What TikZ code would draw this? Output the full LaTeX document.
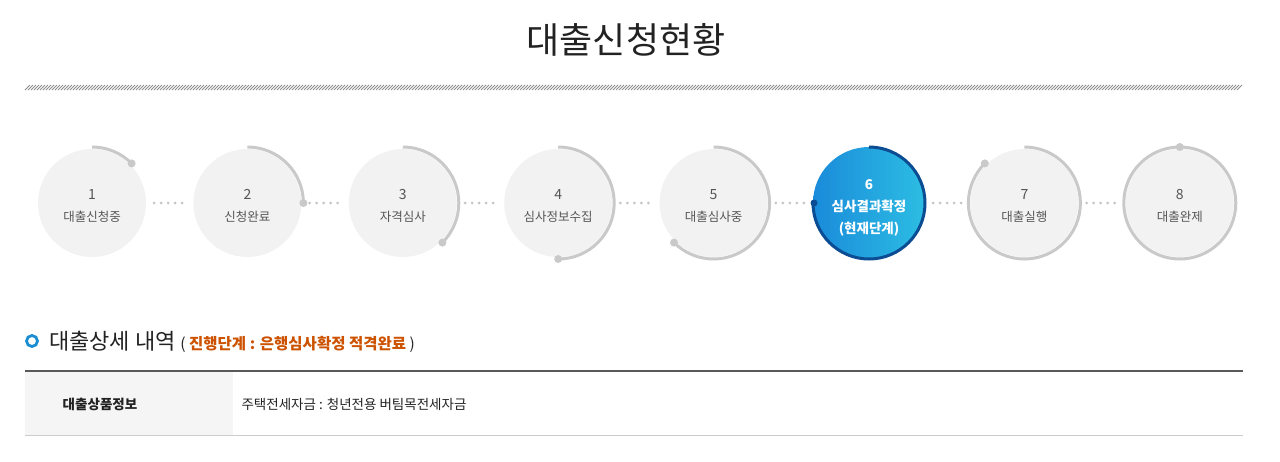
\documentclass[tikz,border=0pt]{standalone}
\usepackage{fontspec}
\setmainfont{Noto Sans CJK KR}
\usepackage{tikz}
\usetikzlibrary{positioning,calc}
\definecolor{stepfill}{HTML}{F2F2F2}
\definecolor{steptext}{HTML}{555555}
\definecolor{ringgray}{HTML}{C9C9C9}
\definecolor{dotgray}{HTML}{C4C4C4}
\definecolor{curleft}{HTML}{1A8BDA}
\definecolor{curright}{HTML}{2CBDE3}
\definecolor{curring}{HTML}{0B4C93}
\definecolor{iconblue}{HTML}{1B8DD0}
\definecolor{stageorange}{HTML}{CC5200}
\definecolor{hatchgray}{HTML}{8E8E8E}
\definecolor{cellgray}{HTML}{F5F5F5}
\newcommand{\numfont}{\rule{0pt}{16pt}\fontsize{14}{22}\selectfont}

\begin{document}
\begin{tikzpicture}[x=1pt, y=-1pt, node distance=47pt,
    stepnode/.style={circle, fill=stepfill, minimum size=108pt, inner sep=0pt,
      align=center, text=steptext, font=\fontsize{12.5}{22}\selectfont},
    curnode/.style={circle, left color=curleft, right color=curright, minimum size=112pt,
      inner sep=0pt, align=center, text=white, font=\bfseries\fontsize{13.5}{22}\selectfont},
    ringarc/.style={draw=ringgray, line width=3pt},
    linkdots/.style={draw=dotgray, line width=3pt, line cap=round,
      dash pattern=on 0pt off 7pt, shorten <=8pt, shorten >=8pt},
    hatchline/.style={draw=hatchgray, line width=0.9pt}]
  \useasboundingbox (0,0) rectangle (1280,461);
  %
  \node (title) at (626,40) {\fontsize{36}{42}\selectfont\color[HTML]{222222}대출신청현황};
  \foreach \x in {25,28,...,1238}
    \draw[hatchline] (\x,90) -- (\x+5,85);
  %
  \node[stepnode]              (s1) at (92,203) {{\numfont 1}\\대출신청중};
  \node[stepnode, right=of s1] (s2) {{\numfont 2}\\신청완료};
  \node[stepnode, right=of s2] (s3) {{\numfont 3}\\자격심사};
  \node[stepnode, right=of s3] (s4) {{\numfont 4}\\심사정보수집};
  \node[stepnode, right=of s4] (s5) {{\numfont 5}\\대출심사중};
  \node[curnode, right=45pt of s5] (s6) {\rule{0pt}{20pt}6\\심사결과확정\\(현재단계)};
  \node[stepnode, right=45pt of s6] (s7) {{\numfont 7}\\대출실행};
  \node[stepnode, right=of s7] (s8) {{\numfont 8}\\대출완제};
  %
  \foreach \a/\b in {s1/s2, s2/s3, s3/s4, s4/s5, s5/s6, s6/s7, s7/s8}
    \draw[linkdots] (\a) -- (\b);
  \foreach \k in {1,2,3,4,5,7,8} {
    \draw[ringarc] ($(s\k.center)+(-90:56)$) arc[start angle=-90, delta angle=45*\k, radius=56];
    \fill[ringgray] ($(s\k.center)+({-90+45*\k}:56)$) circle[radius=4];
  }
  \draw[draw=curring, line width=3pt] ($(s6.center)+(-90:56)$) arc[start angle=-90, delta angle=270, radius=56];
  \fill[curring] ($(s6.center)+(180:55)$) circle[radius=3.5];
  %
  \node[circle, draw=iconblue, line width=2.8pt, minimum size=11pt, inner sep=0pt] (icon) at (32,341) {};
  \node[anchor=west, inner sep=0pt] (section) at (49,342)
    {\fontsize{22}{26}\selectfont\color[HTML]{222222}대출상세 내역
     {\fontsize{15.5}{18}\selectfont ( {\bfseries\color{stageorange}진행단계 : 은행심사확정 적격완료} )}};
  %
  \fill[cellgray] (25,372) rectangle (233,435);
  \draw[draw=black!65, line width=1.2pt] (25,371) -- (1243,371);
  \draw[draw=black!20, line width=1pt] (25,435) -- (1243,435);
  \node (product) at (100,404) {\fontsize{13.5}{16}\selectfont\bfseries\color[HTML]{222222}대출상품정보};
  \node[anchor=west] (productval) at (238,404)
    {\fontsize{13.5}{16}\selectfont\color[HTML]{222222}주택전세자금 : 청년전용 버팀목전세자금};
\end{tikzpicture}
\end{document}
